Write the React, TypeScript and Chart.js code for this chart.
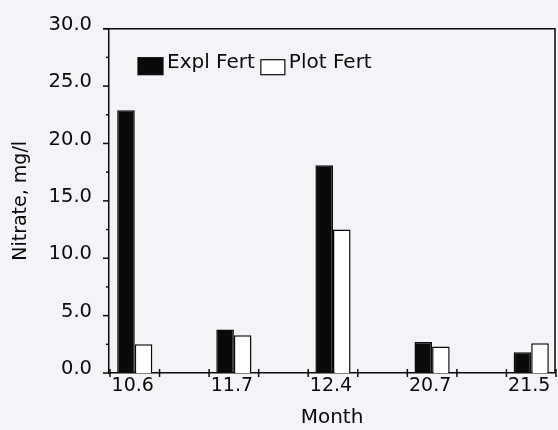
import React, { useEffect, useRef } from 'react';
import { Chart, registerables } from 'chart.js';
Chart.register(...registerables);

const categories = ['10.6', '11.7', '12.4', '20.7', '21.5'];
const explFert = [22.9, 3.8, 18.1, 2.7, 1.8];
const plotFert = [2.5, 3.3, 12.5, 2.3, 2.6];
const yTicks = [0, 5, 10, 15, 20, 25, 30];
const yMinorStep = 2.5;
const seriesLabels = ['Expl Fert', 'Plot Fert'];

const FONT = "'DejaVu Sans', sans-serif";
const INK = '#0a0a0a';
const BG = 'rgb(244,244,248)';

const decorPlugin = {
  id: 'decor',
  afterDraw(chart: any) {
    const { ctx, chartArea: a, scales } = chart;
    const xs = scales.x;
    const ys = scales.y;
    ctx.save();
    ctx.strokeStyle = INK;
    ctx.lineWidth = 1.5;
    // top and right frame
    ctx.beginPath();
    ctx.moveTo(a.left - 6, a.top);
    ctx.lineTo(a.right, a.top);
    ctx.lineTo(a.right, a.bottom);
    ctx.stroke();
    // y tick marks
    const yMax = yTicks[yTicks.length - 1];
    for (let v = 0; v <= yMax + 1e-9; v += yMinorStep) {
      const py = ys.getPixelForValue(v);
      const major = Math.abs(v % 5) < 1e-9;
      ctx.beginPath();
      ctx.moveTo(a.left - (major ? 6 : 3), py);
      ctx.lineTo(a.left, py);
      ctx.stroke();
    }
    // x tick marks around each group
    categories.forEach((_, i) => {
      [-0.25, 0.25].forEach((d) => {
        const px = xs.getPixelForValue(i + d);
        ctx.beginPath();
        ctx.moveTo(px, a.bottom - 4);
        ctx.lineTo(px, a.bottom + 4);
        ctx.stroke();
      });
    });
    // legend
    ctx.font = `20px ${FONT}`;
    ctx.textBaseline = 'alphabetic';
    ctx.textAlign = 'left';
    let lx = a.left + 29;
    const ly = a.top + 29;
    chart.data.datasets.forEach((ds: any, i: number) => {
      const w = i === 0 ? 25 : 24;
      const h = i === 0 ? 17 : 15;
      const top = ly + (17 - h);
      ctx.fillStyle = ds.backgroundColor;
      ctx.fillRect(lx, top, w, h);
      ctx.lineWidth = 1.2;
      ctx.strokeRect(lx, top, w, h);
      lx += w + 4;
      ctx.fillStyle = INK;
      ctx.fillText(ds.label, lx, ly + 10);
      lx += ctx.measureText(ds.label).width + 6;
    });
    ctx.restore();
  },
};

export default function App() {
  const ref = useRef<HTMLCanvasElement | null>(null);
  useEffect(() => {
    document.body.style.margin = '0';
    document.body.style.background = BG;
    const canvas = ref.current!;
    const chart = new Chart(canvas, {
      type: 'bar',
      data: {
        datasets: [
          {
            label: seriesLabels[0],
            data: explFert.map((v, i) => ({ x: i, y: v })),
            backgroundColor: '#0a0a0a',
            borderColor: INK,
            borderWidth: 1.5,
            categoryPercentage: 0.355,
            barPercentage: 1,
          },
          {
            label: seriesLabels[1],
            data: plotFert.map((v, i) => ({ x: i, y: v })),
            backgroundColor: '#ffffff',
            borderColor: INK,
            borderWidth: 1.5,
            categoryPercentage: 0.355,
            barPercentage: 1,
          },
        ] as any,
      },
      options: {
        animation: false,
        responsive: false,
        maintainAspectRatio: false,
        layout: { padding: { top: 27, right: 3, left: 0, bottom: 0 } },
        plugins: { legend: { display: false }, tooltip: { enabled: false } },
        scales: {
          x: {
            type: 'linear',
            min: -0.26,
            max: 4.24,
            offset: false,
            grid: { display: false, drawTicks: false },
            border: { display: true, color: INK, width: 1.5 },
            afterBuildTicks: (s: any) => {
              s.ticks = categories.map((_, i) => ({ value: i }));
            },
            afterFit: (s: any) => {
              s.height = 57;
            },
            ticks: {
              callback: (v: any) => categories[v] ?? '',
              font: { family: FONT, size: 19 },
              color: INK,
              padding: 2,
              maxRotation: 0,
              autoSkip: false,
              labelOffset: -2,
            },
            title: {
              display: true,
              text: 'Month',
              font: { family: FONT, size: 20 },
              color: INK,
              padding: { top: 0, bottom: 0 },
            },
          },
          y: {
            min: 0,
            max: 30,
            grid: { display: false, drawTicks: false },
            border: { display: true, color: INK, width: 1.5 },
            afterBuildTicks: (s: any) => {
              s.ticks = yTicks.map((v) => ({ value: v }));
            },
            afterFit: (s: any) => {
              s.width = 109;
            },
            ticks: {
              callback: (v: any) => Number(v).toFixed(1),
              font: { family: FONT, size: 19.5 },
              color: INK,
              padding: 17,
              labelOffset: -4,
            },
            title: {
              display: true,
              text: 'Nitrate, mg/l',
              font: { family: FONT, size: 19 },
              color: INK,
              padding: { top: 10, bottom: 0 },
            },
          },
        },
      } as any,
      plugins: [decorPlugin],
    });
    return () => chart.destroy();
  }, []);
  return (
    <div style={{ width: 558, height: 430, background: BG }}>
      <canvas ref={ref} width={558} height={430} style={{ display: 'block' }} />
    </div>
  );
}
